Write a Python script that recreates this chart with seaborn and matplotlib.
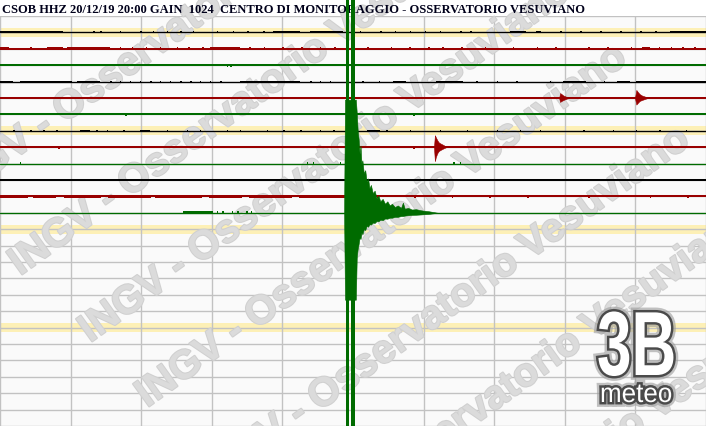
import matplotlib
matplotlib.use("Agg")
import matplotlib.pyplot as plt
import matplotlib.patheffects as pe
import matplotlib.transforms as mtransforms
from matplotlib.textpath import TextPath
from matplotlib.patches import PathPatch
from matplotlib.font_manager import FontProperties
import pandas as pd
import seaborn as sns

# CSOB HHZ drum record, 20/12/19 20:00 - twelve rows of 2.5 minutes
# time = seconds from row start, amplitude in trace spacings (positive = up)
title = "CSOB HHZ 20/12/19 20:00 GAIN  1024  CENTRO DI MONITORAGGIO - OSSERVATORIO VESUVIANO"
row_seconds = 150
trace_ids = ["T01", "T02", "T03", "T04", "T05", "T06",
             "T07", "T08", "T09", "T10", "T11", "T12"]

# noisy stretches on each trace: (start s, duration s)
noise_01 = [(0, 13.4), (19.8, .3), (21.3, .3), (25.5, .3), (29.8, .3), (32.5, .3), (35.5, .3),
            (38.3, .3), (41.0, .3), (46.1, .3), (49.5, .3), (52.5, .3), (55.9, .3), (58.0, 5.7),
            (65.9, 7.0), (76.5, .3), (80.8, .3), (83.9, .3), (87.1, .3), (90.3, .3), (93.5, .3),
            (97.8, .3), (99.9, .3), (108.4, 3.4), (113.9, 1.0), (119.0, .3), (123.3, .3),
            (127.5, .3), (131.8, .3), (136.0, .3), (139.2, .3), (142.4, 7.6)]
noise_02 = [(0, 2.0), (6.4, .3), (10.0, 3.4), (14.2, 9.2), (25.5, .3), (28.0, .3), (31.0, .3),
            (34.0, .3), (37.5, .3), (40.0, .3), (43.0, .3), (44.6, 6.4), (53.0, .3), (56.0, .3),
            (60.0, .3), (64.0, .3), (68.0, .3), (71.0, .3), (78.0, .3), (83.0, .3), (87.0, .3),
            (91.0, .3), (94.0, .3), (98.0, .3), (103.0, .3), (109.0, .3), (114.0, .3), (118.0, .3),
            (125.0, .3), (129.0, .3), (134.0, .3), (136.5, 1.5), (140.0, .3), (142.5, .3),
            (145.0, .3), (147.5, .3)]
noise_03 = [(48.2, .3), (48.9, .3)]
noise_04 = [(0, 2.8), (4.2, 11.1), (16.4, 4.9), (23.4, .3), (25.5, .3), (27.6, .3), (29.7, .3),
            (31.9, .3), (34.0, .3), (36.1, .3), (38.3, .3), (40.4, .3), (42.5, .3), (44.6, .3),
            (46.8, .3), (51.0, 12.7), (65.9, .3), (68.0, .3), (70.1, .3), (77.0, .3), (80.5, .3),
            (83.5, 2.8), (92.6, 5.7), (101.2, .3), (105.5, .3), (109.7, .3), (116.8, .3),
            (119.6, 5.0), (128.3, .3), (131.1, 2.8), (135.1, 14.9)]
noise_05 = [(0, 1.0), (4, .3), (8, .3), (12, .3), (16, .3), (20, .3), (24, .3), (28, .3),
            (32, .3), (36, .3), (40, .3), (44, .3), (48, .3), (52, .3), (56, .3), (60.1, 6.4),
            (68, .3), (71, .3), (77, .3), (80, .3), (83, .3), (86, .3), (89, .3), (92, .3),
            (95, .3), (98, .3), (101, .3), (104.5, .3), (110, .3), (114, .3), (126, .3),
            (130, .3), (141, .3), (144, .3), (147, .3)]
noise_06 = [(26.6, .3), (87.8, .3)]
noise_07 = [(2.8, .3), (6.4, .3), (9.2, .3), (12.0, .3), (17.0, 2.1), (20.5, .3), (22.7, .3),
            (26.2, .3), (29.8, 2.1), (35.4, .3), (39.7, .3), (42.5, .3), (48.2, .3), (51.0, .3),
            (56.7, .3), (60.2, .3), (63.8, .3), (68.0, .3), (70.8, .3), (78.0, 2.8), (82.1, .3),
            (87.1, .3), (93.5, .3), (99.2, .3), (105.5, .3), (110.5, .3), (114.7, .3),
            (123.9, .3), (130.2, .3), (135.1, .3), (140.1, .3), (145.7, .3)]
noise_08 = [(12.4, .3), (87.8, .3)]
noise_09 = [(4.2, .3), (65.2, .3), (66.5, .3), (72.2, .3), (96.3, .3), (97.7, .3)]
noise_10 = [(0.6, 10.0), (21.3, .3), (23.4, .3), (26.9, 4.3), (34.0, 5.7), (42.5, .3),
            (45.3, .3), (48.2, .3), (49.6, .3), (53.8, .3), (56.7, 14.2)]
noise_11 = [(0, 6), (7, 5), (13.5, 8), (23, 9), (33, 10), (44.5, 7), (53, 9), (63.5, 10),
            (80, .3), (88, .3), (96, .3), (104, .3), (112, .3), (125, .3), (138, .3), (146, .3)]
noise_12 = [(38.9, 6.4), (46.0, .3), (47.2, .3), (49.3, .3), (50.4, .3), (52.3, .3), (53.3, .3)]
noise_amp = [0.06, 0.08, 0.1, 0.06, 0.08, 0.1, 0.06, 0.1, 0.08, 0.06, 0.08, 0.09]

# the big local quake on trace 12 (envelope) and its clipped strokes
quake_t = [73.1, 73.3, 75.6, 75.8, 76.0, 76.2, 76.4, 76.6, 76.8, 77.0, 77.3, 77.6, 77.9,
           78.2, 78.5, 78.8, 79.2, 79.6, 80.0, 80.4, 80.8, 81.3, 81.8, 82.3, 82.8, 83.3,
           83.9, 84.5, 85.2, 85.6, 86.0, 86.7, 87.5, 88.4, 89.5, 91.0, 93.0]
quake_up = [0, 6.9, 6.9, 6.1, 5.0, 4.5, 3.6, 4.1, 3.0, 3.2, 2.4, 2.6, 1.9, 2.1, 1.5, 1.7,
            1.2, 1.35, 0.9, 1.05, 0.7, 0.85, 0.55, 0.7, 0.45, 0.55, 0.35, 0.45, 0.3, 0.62,
            0.25, 0.3, 0.2, 0.22, 0.15, 0.1, 0]
quake_down = [0, 5.3, 5.3, 2.7, 2.2, 1.9, 1.5, 1.6, 1.2, 1.3, 1.0, 1.05, 0.8, 0.85, 0.7,
              0.72, 0.6, 0.62, 0.5, 0.52, 0.42, 0.45, 0.35, 0.36, 0.3, 0.3, 0.25, 0.25,
              0.2, 0.2, 0.17, 0.15, 0.13, 0.12, 0.1, 0.07, 0]
quake_clipped = [(73.6, 74.2), (74.5, 75.5)]

# small events on trace 8 and trace 5
ev8_t = [92.2, 92.4, 92.6, 92.9, 93.2, 93.5, 93.9, 94.3, 94.8]
ev8_up = [0, 0.73, 0.6, 0.43, 0.3, 0.24, 0.18, 0.12, 0]
ev8_down = [0, 0.85, 0.6, 0.37, 0.24, 0.18, 0.12, 0.06, 0]
ev5a_t = [118.8, 119.0, 119.3, 119.7, 120.2, 120.8]
ev5a_up = [0, 0.3, 0.24, 0.15, 0.09, 0]
ev5a_down = [0, 0.24, 0.18, 0.12, 0.06, 0]
ev5b_t = [134.9, 135.2, 135.5, 135.9, 136.4, 137.0, 137.6]
ev5b_up = [0, 0.49, 0.37, 0.24, 0.15, 0.09, 0]
ev5b_down = [0, 0.4, 0.3, 0.18, 0.12, 0.06, 0]

# --- styling ---
W, H = 706, 426
BLACK, RED, GREEN = "#000000", "#990000", "#006b00"
colors = [BLACK, RED, GREEN] * 4
widths = [0.95, 1.45, 1.45, 0.95, 1.45, 1.45, 0.95, 1.45, 0.95, 1.45, 1.45, 0.95]

sns.set_theme(style="white")
fig = plt.figure(figsize=(W / 100, H / 100), dpi=100)
fig.patch.set_facecolor("white")
ax = fig.add_axes([0, 0, 1, 410 / H])
ax.set_facecolor("#fafafa")
ax.set_xlim(0, row_seconds)
ax.set_ylim(25, 0)
ax.set_xticks(range(0, row_seconds + 1, 15))
ax.set_yticks(range(0, 26))
ax.set_axisbelow(True)
ax.grid(True, color="#c2c2c2", lw=1.0)
ax.tick_params(length=0, labelbottom=False, labelleft=False)
for sp in ax.spines.values():
    sp.set_visible(False)

# hour marks
for r in (1, 7, 13, 19):
    ax.axhspan(r - 0.27, r + 0.27, color="#fdf0b6", lw=0, zorder=0.2)

def pix(x, y):
    return x / W, 1 - y / H

# watermark
for x0, y0 in [(-45, 202), (20, 276), (90, 343), (147, 408),
               (210, 490), (273, 570), (337, 650)]:
    fx, fy = pix(x0, y0)
    ax.text(fx, fy, "INGV - Osservatorio Vesuviano", transform=fig.transFigure,
            rotation=35.7, rotation_mode="anchor", ha="left", va="baseline",
            fontsize=29, fontweight="bold", family="Liberation Sans",
            color="#dbdbdb", clip_on=False, zorder=1,
            path_effects=[pe.withStroke(linewidth=1.5, foreground="#d0d0d0")])

# trace baselines
rows = list(range(1, 13))
base = pd.DataFrame({
    "time": [0, row_seconds] * len(trace_ids),
    "pos": [r for r in rows for _ in range(2)],
    "trace": [t for t in trace_ids for _ in range(2)],
})
sns.lineplot(data=base, x="time", y="pos", hue="trace", size="trace",
             palette=dict(zip(trace_ids, colors)), sizes=dict(zip(trace_ids, widths)),
             estimator=None, sort=False, legend=False, ax=ax, zorder=3)
ax.set_xlabel("")
ax.set_ylabel("")

noise = [noise_01, noise_02, noise_03, noise_04, noise_05, noise_06,
         noise_07, noise_08, noise_09, noise_10, noise_11, noise_12]
for r, segs, amp, c in zip(rows, noise, noise_amp, colors):
    ax.broken_barh(segs, (r - amp, 2 * amp), facecolors=c, lw=0, zorder=3)

events = [(12, quake_t, quake_up, quake_down),
          (8, ev8_t, ev8_up, ev8_down),
          (5, ev5a_t, ev5a_up, ev5a_down),
          (5, ev5b_t, ev5b_up, ev5b_down)]
for r, t, up, dn in events:
    ax.fill_between(t, [r - u for u in up], [r + d for d in dn],
                    color=colors[r - 1], lw=0.4, zorder=3.5)

for a, b in quake_clipped:
    ax.axvspan(a, b, ymin=0, ymax=H / 410, color=GREEN, lw=0, clip_on=False, zorder=4)

# header
fx, fy = pix(2, 13)
ax.text(fx, fy, title, transform=fig.transFigure, family="Liberation Serif",
        fontweight="bold", fontsize=9.0, color="#00001a", va="baseline",
        clip_on=False, zorder=2)

# 3B meteo logo
to_pix = mtransforms.Affine2D().scale(1 / W, 1 / H) + fig.transFigure
logo_fx = [pe.Stroke(linewidth=7, foreground="#9a9a9a", alpha=0.6),
           pe.Stroke(linewidth=3.5, foreground="#4a4a4a"), pe.Normal()]
for txt, weight, x0, y0, sx, sy in [("3B", "bold", 597, 375, 62, 91),
                                    ("meteo", "normal", 600, 402, 26, 27)]:
    tp = TextPath((0, 0), txt, size=1, prop=FontProperties(family="Liberation Sans", weight=weight))
    tr = mtransforms.Affine2D().scale(sx, sy).translate(x0, H - y0)
    patch = PathPatch(tr.transform_path(tp), facecolor="white", edgecolor="none",
                      transform=to_pix, clip_on=False, zorder=6, path_effects=logo_fx)
    ax.add_patch(patch)

fig.savefig("out.png", dpi=100)
